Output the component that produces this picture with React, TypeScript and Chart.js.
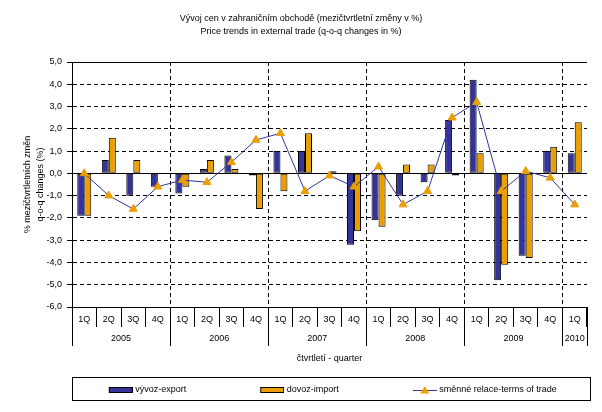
import React, { useEffect, useRef } from 'react';
import { Chart, registerables } from 'chart.js';

Chart.register(...registerables);

// ---------- data ----------
const quarterLabels = ['1Q', '2Q', '3Q', '4Q', '1Q', '2Q', '3Q', '4Q', '1Q', '2Q', '3Q', '4Q', '1Q', '2Q', '3Q', '4Q', '1Q', '2Q', '3Q', '4Q', '1Q'];
const quarterYears = ['2005', '2005', '2005', '2005', '2006', '2006', '2006', '2006', '2007', '2007', '2007', '2007', '2008', '2008', '2008', '2008', '2009', '2009', '2009', '2009', '2010'];
const exportChange = [-1.9, 0.6, -1.0, -0.6, -0.9, 0.2, 0.8, -0.1, 1.0, 1.0, 0.0, -3.2, -2.1, -1.0, -0.4, 2.4, 4.2, -4.8, -3.7, 1.0, 0.9];
const importChange = [-1.9, 1.6, 0.6, 0.0, -0.6, 0.6, 0.2, -1.6, -0.8, 1.8, 0.1, -2.6, -2.4, 0.4, 0.4, -0.1, 0.9, -4.1, -3.8, 1.2, 2.3];
const termsOfTrade = [0.0, -1.0, -1.6, -0.6, -0.3, -0.4, 0.5, 1.5, 1.8, -0.8, -0.1, -0.6, 0.3, -1.4, -0.8, 2.5, 3.2, -0.8, 0.1, -0.2, -1.4];
const yMin = -6;
const yMax = 5;
const yStep = 1;
const chartTitle = ['Vývoj cen v zahraničním obchodě (mezičtvrtletní změny v %)', 'Price trends in external trade (q-o-q changes in %)'];
const yAxisTitle = ['% mezičtvrtletních změn', 'q-o-q changes (%)'];
const xAxisTitle = 'čtvrtletí - quarter';
const seriesNames = ['vývoz-export', 'dovoz-import', 'směnné relace-terms of trade'];

// ---------- styles ----------
const NAVY = '#333399';
const ORANGE = '#EB9E00';
const FONT = '"Liberation Sans", Arial, sans-serif';
const LEG_BOX = 96;

const yearStart = (i: number) => i === 0 || quarterYears[i] !== quarterYears[i - 1];

function legendImage(kind: 'bar' | 'line', color: string) {
  const c = document.createElement('canvas');
  c.width = LEG_BOX + 4;
  c.height = 10;
  const g = c.getContext('2d')!;
  const x0 = LEG_BOX + 4 - 24;
  if (kind === 'bar') {
    g.fillStyle = color;
    g.fillRect(x0, 3, 24, 5);
    g.strokeStyle = '#000';
    g.lineWidth = 1;
    g.strokeRect(x0 + 0.5, 2.5, 23, 5);
  } else {
    g.strokeStyle = NAVY;
    g.lineWidth = 1;
    g.beginPath();
    g.moveTo(x0, 5.5);
    g.lineTo(x0 + 24, 5.5);
    g.stroke();
    g.fillStyle = ORANGE;
    g.beginPath();
    g.moveTo(x0 + 12, 1);
    g.lineTo(x0 + 16.5, 8.5);
    g.lineTo(x0 + 7.5, 8.5);
    g.closePath();
    g.fill();
  }
  return c;
}

const layoutFix = {
  id: 'layoutFix',
  afterLayout(chart: any) {
    const lg = chart.legend;
    if (lg) {
      lg.left = 0;
      lg.right = chart.width - 10.5;
      lg.width = lg.right - lg.left;
      lg.top = 385.5;
      lg.bottom = lg.top + 9;
      lg.height = 9;
    }
    const tb = chart.titleBlock;
    if (tb) {
      tb.left = 0;
      tb.right = chart.width;
      tb.width = chart.width;
    }
  },
};

const decorations = {
  id: 'decorations',
  afterDraw(chart: any) {
    const { ctx, chartArea } = chart;
    const xs = chart.scales.x;
    const step = xs.getPixelForValue(1) - xs.getPixelForValue(0);
    const align = (p: number) => Math.round(p - 0.5) + 0.5;
    const groups: { year: string; start: number; end: number }[] = [];
    quarterYears.forEach((y, i) => {
      if (!groups.length || groups[groups.length - 1].year !== y) groups.push({ year: y, start: i, end: i });
      else groups[groups.length - 1].end = i;
    });
    const top = chartArea.bottom;
    const bottom = top + 39;
    ctx.save();
    ctx.strokeStyle = '#000';
    ctx.lineWidth = 1;
    ctx.beginPath();
    groups.forEach((g, k) => {
      const a = align(xs.getPixelForValue(g.start) - step / 2);
      ctx.moveTo(a, top);
      ctx.lineTo(a, bottom);
      if (k === groups.length - 1) {
        const b = align(xs.getPixelForValue(g.end) + step / 2);
        ctx.moveTo(b, top);
        ctx.lineTo(b, bottom);
      }
    });
    ctx.stroke();
    ctx.fillStyle = '#000';
    ctx.font = `9px ${FONT}`;
    ctx.textAlign = 'center';
    ctx.textBaseline = 'middle';
    groups.forEach((g) => {
      const cx = (xs.getPixelForValue(g.start) + xs.getPixelForValue(g.end)) / 2;
      ctx.fillText(g.year, cx, top + 32);
    });
    // legend frame
    ctx.strokeRect(align(chartArea.left), 377.5, 518, 23);
    ctx.restore();
  },
};

export default function App() {
  const ref = useRef<HTMLCanvasElement>(null);

  useEffect(() => {
    if (!ref.current) return;
    const legendImages = [legendImage('bar', NAVY), legendImage('bar', ORANGE), legendImage('line', ORANGE)];
    const chart = new Chart(ref.current, {
      type: 'bar',
      data: {
        labels: quarterLabels,
        datasets: [
          {
            type: 'bar',
            label: seriesNames[0],
            data: exportChange,
            backgroundColor: NAVY,
            borderColor: '#000',
            borderWidth: 1,
            borderSkipped: false,
            categoryPercentage: 0.571,
            barPercentage: 1,
            order: 1,
          },
          {
            type: 'bar',
            label: seriesNames[1],
            data: importChange,
            backgroundColor: ORANGE,
            borderColor: '#000',
            borderWidth: 1,
            borderSkipped: false,
            categoryPercentage: 0.571,
            barPercentage: 1,
            order: 1,
          },
          {
            type: 'line',
            label: seriesNames[2],
            data: termsOfTrade,
            borderColor: NAVY,
            borderWidth: 1,
            tension: 0,
            pointStyle: 'triangle',
            pointRadius: 4.6,
            pointBackgroundColor: ORANGE,
            pointBorderColor: ORANGE,
            pointBorderWidth: 1,
            order: 0,
          },
        ],
      } as any,
      options: {
        responsive: false,
        devicePixelRatio: 1,
        animation: false,
        events: [],
        layout: { autoPadding: false, padding: { left: 0, right: 15, top: 0, bottom: 29 } },
        plugins: {
          tooltip: { enabled: false },
          title: {
            display: true,
            text: chartTitle,
            color: '#000',
            font: { family: FONT, size: 9, weight: 'normal', lineHeight: '13px' },
            padding: { top: 12, bottom: 24 },
          },
          legend: {
            position: 'bottom',
            labels: {
              usePointStyle: true,
              pointStyleWidth: LEG_BOX,
              padding: 0,
              color: '#000',
              font: { family: FONT, size: 9 },
              generateLabels: (c: any) =>
                c.data.datasets.map((ds: any, i: number) => ({
                  text: ds.label,
                  fillStyle: 'rgba(0,0,0,0)',
                  strokeStyle: 'rgba(0,0,0,0)',
                  lineWidth: 0,
                  pointStyle: legendImages[i],
                  rotation: 0,
                  hidden: false,
                  datasetIndex: i,
                  fontColor: '#000',
                })),
            },
          },
        },
        scales: {
          x: {
            ticks: { color: '#000', font: { family: FONT, size: 9 }, padding: -13, autoSkip: false, maxRotation: 0 },
            grid: {
              offset: true,
              color: (c: any) =>
                c.index === quarterLabels.length || (c.index > 0 && c.index < quarterLabels.length && yearStart(c.index))
                  ? '#000'
                  : 'rgba(0,0,0,0)',
              lineWidth: 1,
              tickLength: 20,
              tickColor: '#000',
              tickBorderDash: [],
            },
            border: {
              display: true,
              color: '#000',
              width: 1,
              dash: (c: any) => (c.index === quarterLabels.length ? [] : [4, 3]),
            },
            title: { display: true, text: xAxisTitle, color: '#000', font: { family: FONT, size: 9 }, padding: 0 },
            afterFit: (s: any) => {
              s.height = 57;
            },
          },
          y: {
            min: yMin,
            max: yMax,
            ticks: {
              stepSize: yStep,
              color: '#000',
              font: { family: FONT, size: 9 },
              padding: 5,
              callback: (v: any) => Number(v).toFixed(1).replace('.', ','),
            },
            grid: { color: '#000', lineWidth: 1, tickLength: 5, tickColor: '#000', tickBorderDash: [] },
            border: {
              display: true,
              color: '#000',
              width: 1,
              dash: (c: any) => {
                const v = c.tick ? c.tick.value : null;
                return v === 0 || v === yMax || v === yMin ? [] : [4, 3];
              },
            },
            title: {
              display: true,
              text: yAxisTitle,
              color: '#000',
              font: { family: FONT, size: 9, lineHeight: '13px' },
              padding: { top: 21.5, bottom: 0 },
            },
            afterFit: (s: any) => {
              s.width = 72;
            },
          },
        },
      } as any,
      plugins: [layoutFix, decorations],
    });
    return () => chart.destroy();
  }, []);

  return (
    <div style={{ position: 'fixed', left: 0, top: 0, width: 602, height: 412, background: '#fff' }}>
      <canvas ref={ref} width={602} height={412} style={{ display: 'block' }} />
    </div>
  );
}
